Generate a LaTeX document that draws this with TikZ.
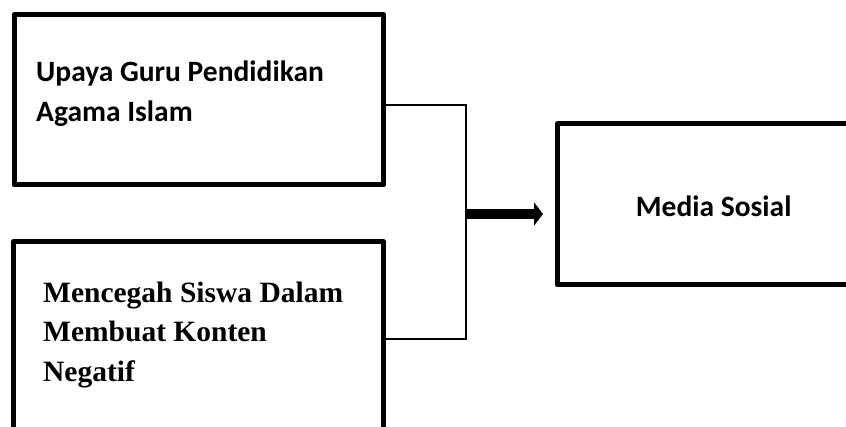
\documentclass[tikz,border=0pt]{standalone}
\usepackage{fontspec}
\setmainfont{Liberation Serif}
\newfontfamily\calibrifont{Carlito}
\usetikzlibrary{arrows.meta}

\begin{document}
\begin{tikzpicture}[x=1pt,y=1pt,
  box/.style={draw, line width=5pt, rectangle, inner sep=0pt, line join=round},
  sanslabel/.style={anchor=base west, inner sep=0pt, font=\calibrifont\bfseries\fontsize{29.5}{40}\selectfont},
  seriflabel/.style={anchor=base west, inner sep=0pt, font=\bfseries\fontsize{29.5}{40}\selectfont},
  link/.style={draw, line width=1.4pt},
  bigarrow/.style={line width=9.5pt, -{Triangle[length=9pt,width=23pt]}}]
  \useasboundingbox (0,0) rectangle (846,-427);
  \clip (0,0) rectangle (846,-427);
  \fill[white] (0,0) rectangle (846,-427);

  % the three boxes (the lower and the right one run past the frame)
  \node[box, minimum width=369.5pt, minimum height=170.5pt] (b1) at (198.75,-99.75) {};
  \node[box, minimum width=369.5pt, minimum height=218.5pt] (b2) at (198.5,-350.75) {};
  \node[box, minimum width=313pt, minimum height=161pt] (b3) at (713.5,-204.5) {};

  % box texts
  \node[sanslabel] (t1a) at (36,-81.5) {Upaya Guru Pendidikan};
  \node[sanslabel] (t1b) at (36,-121.5) {Agama Islam};
  \node[seriflabel] (t2a) at (43,-303) {Mencegah Siswa Dalam};
  \node[seriflabel] (t2b) at (43,-342) {Membuat Konten};
  \node[seriflabel] (t2c) at (43,-382) {Negatif};
  \node[sanslabel, anchor=base] (t3) at (713.7,-217) {Media Sosial};

  % bracket joining the two left boxes, and the arrow to the right box
  \coordinate (j) at (466,-214);
  \coordinate (tip) at (543,-214);
  \draw[link] (b1.east |- 0,-105) -| (j) |- (b2.east |- 0,-339);
  \draw[bigarrow] ([xshift=-0.7pt]j) -- (tip);
\end{tikzpicture}
\end{document}
